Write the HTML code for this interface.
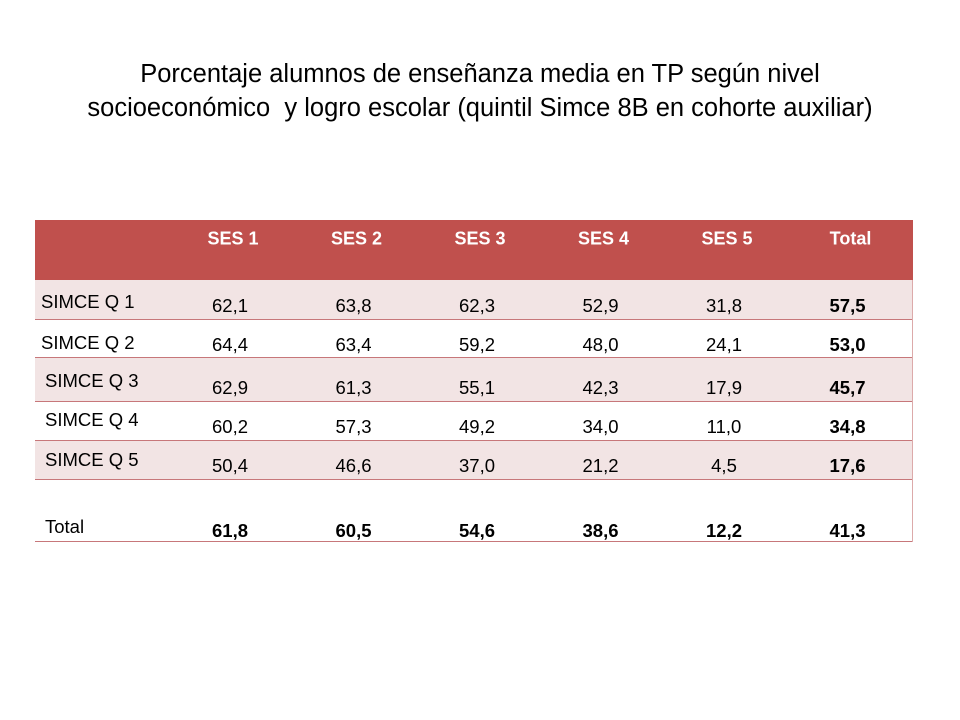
<!DOCTYPE html>
<html><head><meta charset="utf-8"><style>
body{margin:0;width:960px;height:720px;background:#fff;position:relative;overflow:hidden;font-family:"Liberation Sans",sans-serif;color:#000}
#title{position:absolute;left:0;top:57px;width:960px;text-align:center;font-size:25.5px;line-height:34px}
.t{position:absolute;font-size:18.5px;white-space:nowrap;transform:translate(-50%,-50%)}
.h{color:#fff;font-weight:bold;font-size:18px}
.l{transform:translate(0,-50%)}
.b{font-weight:bold}
.r{position:absolute;left:35px;width:877px;border-bottom:1px solid #c7777a}
</style></head><body>
<div id="title">Porcentaje alumnos de enseñanza media en TP según nivel<br>socioeconómico &nbsp;y logro escolar (quintil Simce 8B en cohorte auxiliar)</div>
<div id="tbl"></div>
<script>
const columns=["SES 1","SES 2","SES 3","SES 4","SES 5","Total"];
const rowLabels=["SIMCE Q 1","SIMCE Q 2","SIMCE Q 3","SIMCE Q 4","SIMCE Q 5","Total"];
const q1=["62,1","63,8","62,3","52,9","31,8","57,5"];
const q2=["64,4","63,4","59,2","48,0","24,1","53,0"];
const q3=["62,9","61,3","55,1","42,3","17,9","45,7"];
const q4=["60,2","57,3","49,2","34,0","11,0","34,8"];
const q5=["50,4","46,6","37,0","21,2","4,5","17,6"];
const tot=["61,8","60,5","54,6","38,6","12,2","41,3"];
const rows=[q1,q2,q3,q4,q5,tot];
const tbl=document.getElementById('tbl');
const rowTop=[280,320,358,402,441,480], rowBot=[320,358,402,441,480,542];
const fills=["#f2e4e4","#fff","#f2e4e4","#fff","#f2e4e4","#fff"];
const labelY=[302,343,381,420,460,527], valY=[306,345,388,427,466,531];
function colX(i){return 171+123.5*i+60;}
function add(cls,txt,x,y,name){const d=document.createElement('div');d.className=cls;d.textContent=txt;d.style.left=x+'px';d.style.top=y+'px';


tbl.appendChild(d);}
const hdr=document.createElement('div');
hdr.style.cssText='position:absolute;left:35px;top:220px;width:878px;height:60px;background:#c0504d';


tbl.appendChild(hdr);
const lb=document.createElement('div');
lb.style.cssText='position:absolute;left:35px;top:280px;width:0;height:262px;border-left:1px solid #c7777a';


tbl.appendChild(lb);
const rb=document.createElement('div');
rb.style.cssText='position:absolute;left:912px;top:280px;width:0;height:262px;border-left:1px solid #dcaaaa';


tbl.appendChild(rb);
columns.forEach((c,i)=>add('t h',c,colX(i)+2,239,'header-'+c.toLowerCase().replace(' ','-')));
rows.forEach((r,ri)=>{
 const bg=document.createElement('div');bg.className='r';
 bg.style.top=rowTop[ri]+'px';bg.style.height=(rowBot[ri]-rowTop[ri]-1)+'px';bg.style.background=fills[ri];
 
 
 tbl.appendChild(bg);
 add('t l',rowLabels[ri],ri<2?41:45,labelY[ri],'row-label');
 r.forEach((v,ci)=>add('t'+((ri==5||ci==5)?' b':''),v,colX(ci)-1,valY[ri],'cell-value'));
});
</script>
</body></html>
